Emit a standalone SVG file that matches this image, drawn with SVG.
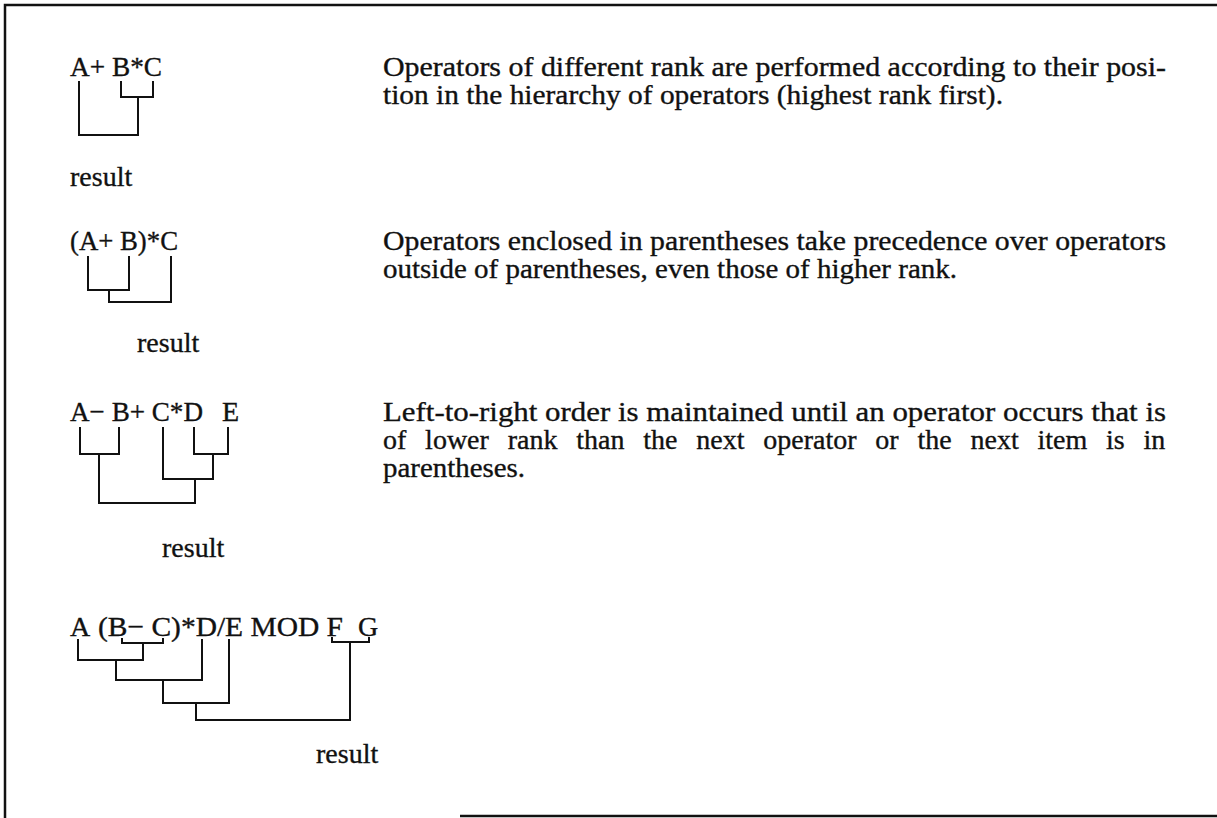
<svg xmlns="http://www.w3.org/2000/svg" width="1217" height="818" viewBox="0 0 1217 818">
<style>
text{font-family:"Liberation Serif","Times New Roman",serif;font-size:28px;fill:#111;stroke:#111;stroke-width:0.35}
.ln{fill:none;stroke:#111;stroke-width:2;stroke-linecap:square;stroke-linejoin:miter}
.bd{fill:none;stroke:#111;stroke-width:2.5}
</style>
<rect width="1217" height="818" fill="#fff"/>
<g id="border"><path class="bd" d="M1217,5 H5 V818"/><path class="bd" d="M460,816 H1217"/></g>
<g id="connectors">
<path class="ln" d="M121,82 V97 H153 V82 M138,97 V135 H79 V82"/>
<path class="ln" d="M88,257 V290 H129 V257 M109,290 V302 H171 V257"/>
<path class="ln" d="M80,428 V454 H119 V428 M194,428 V454 H228 V428 M163,428 V479 H213 V454 M99,454 V503 H195 V479"/>
<path class="ln" d="M122,639 V643 H163 V639 M143,643 V660 H78 V640 M116,660 V680 H202 V640 M163,680 V703 H229 V640 M332,638 V642 H369 V638 M350,642 V720 H196 V703"/>
</g>
<g id="expr1"><text x="70" y="76" textLength="92" lengthAdjust="spacingAndGlyphs">A+ B*C</text></g>
<g id="result1"><text x="70" y="186">result</text></g>
<g id="desc1"><text x="383" y="76" textLength="783" lengthAdjust="spacingAndGlyphs">Operators of different rank are performed according to their posi-</text><text x="383" y="104" textLength="620" lengthAdjust="spacingAndGlyphs">tion in the hierarchy of operators (highest rank first).</text></g>
<g id="expr2"><text x="70" y="250" textLength="108" lengthAdjust="spacingAndGlyphs">(A+ B)*C</text></g>
<g id="result2"><text x="137" y="352">result</text></g>
<g id="desc2"><text x="383" y="250" textLength="783" lengthAdjust="spacingAndGlyphs">Operators enclosed in parentheses take precedence over operators</text><text x="383" y="278" textLength="574" lengthAdjust="spacingAndGlyphs">outside of parentheses, even those of higher rank.</text></g>
<g id="expr3"><text x="70" y="421" textLength="133" lengthAdjust="spacingAndGlyphs">A− B+ C*D</text><text x="222" y="421">E</text></g>
<g id="result3"><text x="162" y="557">result</text></g>
<g id="desc3"><text x="383" y="421" textLength="783" lengthAdjust="spacingAndGlyphs">Left-to-right order is maintained until an operator occurs that is</text><text x="383" y="449" word-spacing="11.8">of lower rank than the next operator or the next item is in</text><text x="383" y="477" textLength="142" lengthAdjust="spacingAndGlyphs">parentheses.</text></g>
<g id="expr4"><text x="70" y="636">A</text><text x="98" y="636" textLength="245" lengthAdjust="spacingAndGlyphs">(B− C)*D/E MOD F</text><text x="358" y="636">G</text></g>
<g id="result4"><text x="316" y="763">result</text></g>
</svg>
